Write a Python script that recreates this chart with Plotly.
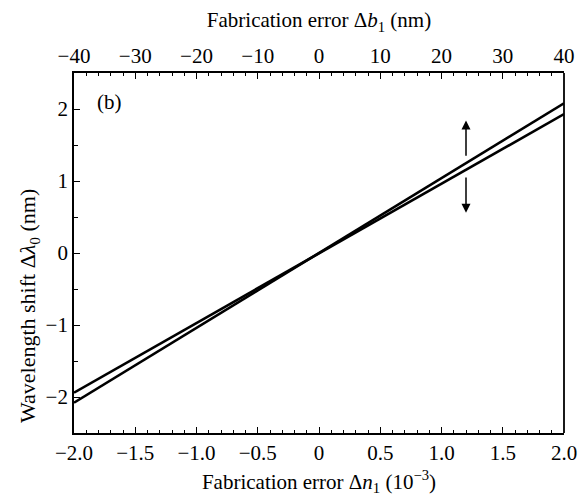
import plotly.graph_objects as go

# Data
dn1 = [-2.0, -1.0, 0.0, 1.0, 2.0]              # Fabrication error Δn1 (1e-3)
shift_a = [-2.08, -1.04, 0.0, 1.04, 2.08]      # steeper line
shift_b = [-1.94, -0.97, 0.0, 0.965, 1.93]     # shallower line

x_ticks = [-2.0, -1.5, -1.0, -0.5, 0.0, 0.5, 1.0, 1.5, 2.0]
x_ticktext = ["−2.0", "−1.5", "−1.0", "−0.5", "0", "0.5", "1.0", "1.5", "2.0"]
top_ticks = [-40, -30, -20, -10, 0, 10, 20, 30, 40]
top_ticktext = ["−40", "−30", "−20", "−10", "0", "10", "20", "30", "40"]
y_ticks = [-2, -1, 0, 1, 2]
y_ticktext = ["−2", "−1", "0", "1", "2"]

arrow_x = 1.2
arrow_up = (1.33, 1.84)    # (start, tip)
arrow_down = (1.07, 0.56)

FONT = "Liberation Serif, Times New Roman, serif"
FS = 21

fig = go.Figure()
for ys in (shift_a, shift_b):
    fig.add_trace(go.Scatter(x=dn1, y=ys, mode="lines",
                             line=dict(color="black", width=2.6),
                             showlegend=False, hoverinfo="skip"))
# invisible trace for top axis
fig.add_trace(go.Scatter(x=[top_ticks[0], top_ticks[-1]], y=[0, 0], xaxis="x2",
                         mode="lines", line=dict(width=0), opacity=0,
                         showlegend=False, hoverinfo="skip"))

axis_common = dict(showgrid=False, zeroline=False, showline=True, linecolor="black",
                   linewidth=1.8, ticks="inside", ticklen=6, tickwidth=1.3, tickcolor="black",
                   automargin=False,
                   tickfont=dict(family=FONT, size=FS, color="black"))

fig.update_layout(
    width=585, height=499,
    margin=dict(l=74, r=21, t=73, b=66),
    paper_bgcolor="white", plot_bgcolor="white",
    font=dict(family=FONT, color="black"),
    xaxis=dict(range=[-2.0, 2.0], tickvals=x_ticks, ticktext=x_ticktext,
               minor=dict(dtick=0.1, ticks="inside", ticklen=3.5, tickwidth=1.2, tickcolor="black"),
               title=dict(text="Fabrication error Δ<i>n</i><sub>1</sub> (10<sup>−3</sup>)",
                          font=dict(family=FONT, size=FS), standoff=10),
               mirror=False, **axis_common),
    xaxis2=dict(range=[-40, 40], overlaying="x", side="top", tickvals=top_ticks,
                ticktext=top_ticktext,
                minor=dict(dtick=2, ticks="inside", ticklen=3.5, tickwidth=1.2, tickcolor="black"),
                title=dict(text="Fabrication error Δ<i>b</i><sub>1</sub> (nm)",
                           font=dict(family=FONT, size=FS), standoff=10),
                **axis_common),
    yaxis=dict(range=[-2.5, 2.5], tickvals=y_ticks, ticktext=y_ticktext,
               minor=dict(dtick=0.5, ticks="inside", ticklen=4, tickwidth=1.2, tickcolor="black"),
               **axis_common),
)
# y-axis title as a rotated annotation
fig.add_annotation(xref="paper", yref="paper", x=-45 / 490, y=(433 - 306) / 360,
                   text="Wavelength shift Δ<i>λ</i><sub>0</sub> (nm)", textangle=-90,
                   showarrow=False, xanchor="center", yanchor="middle",
                   font=dict(family=FONT, size=22, color="black"))

# right border (no ticks)
fig.add_shape(type="line", xref="paper", yref="paper", x0=1, x1=1, y0=0, y1=1,
              line=dict(color="black", width=1.8))

fig.add_annotation(x=-1.83, y=2.1, xref="x", yref="y", text="(b)", showarrow=False,
                   font=dict(family=FONT, size=FS, color="black"), xanchor="left")

for start, tip in (arrow_up, arrow_down):
    fig.add_annotation(x=arrow_x, y=tip, ax=arrow_x, ay=start, xref="x", yref="y",
                       axref="x", ayref="y", text="", showarrow=True,
                       arrowhead=2, arrowsize=1.2, arrowwidth=1.5, arrowcolor="black")

fig.write_html("out.html", config={"displayModeBar": False},
               post_script="document.body.style.margin='0px';")
